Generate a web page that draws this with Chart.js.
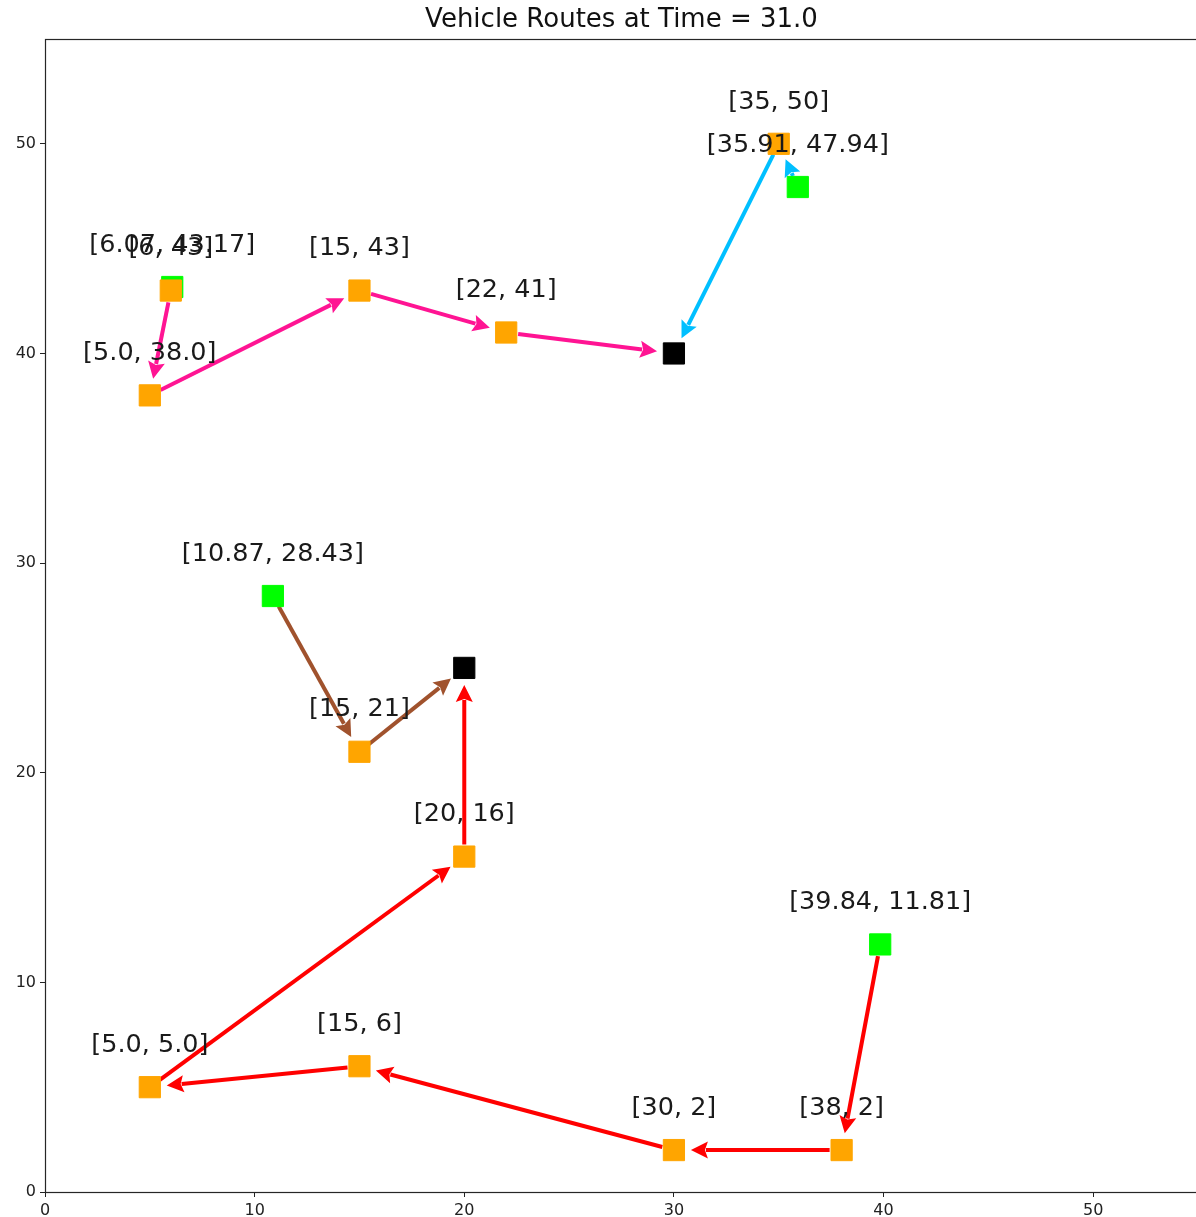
<!DOCTYPE html>
<html>
<head>
<meta charset="utf-8">
<script src="https://cdn.jsdelivr.net/npm/chart.js@4.4.0/dist/chart.umd.min.js"></script>
<style>
  html, body { margin: 0; padding: 0; overflow: hidden; background: #fff; }
  canvas { display: block; }
</style>
</head>
<body>
<canvas id="routes" width="1214" height="1217"></canvas>
<script>
// ---- data ----
const chartTitle = 'Vehicle Routes at Time = 31.0';
const axisTicks = [0, 10, 20, 30, 40, 50];

// customer stops
const customerPoints = [[6, 43], [5, 38], [15, 43], [22, 41], [35, 50], [15, 21], [20, 16], [5, 5], [15, 6], [30, 2], [38, 2]];
const customerLabels = ['[6, 43]', '[5.0, 38.0]', '[15, 43]', '[22, 41]', '[35, 50]', '[15, 21]', '[20, 16]', '[5.0, 5.0]', '[15, 6]', '[30, 2]', '[38, 2]'];

// current vehicle positions
const vehiclePoints = [[6.07, 43.17], [35.91, 47.94], [10.87, 28.43], [39.84, 11.81]];
const vehicleLabels = ['[6.07, 43.17]', '[35.91, 47.94]', '[10.87, 28.43]', '[39.84, 11.81]'];

// depots
const depotPoints = [[30, 40], [20, 25]];

// remaining route of each vehicle
const routePink = [[6.07, 43.17], [6, 43], [5, 38], [15, 43], [22, 41], [30, 40]];
const routeBlue = [[35.91, 47.94], [35, 50], [30, 40]];
const routeBrown = [[10.87, 28.43], [15, 21], [20, 25]];
const routeRed = [[39.84, 11.81], [38, 2], [30, 2], [15, 6], [5, 5], [20, 16], [20, 25]];

const routeColors = ['#FF1493', '#00BFFF', '#A0522D', '#FF0000'];
const routes = [routePink, routeBlue, routeBrown, routeRed];

const LABEL_OFFSET = 2.0; // label sits this many data units above its point

// ---- plugins ----
const arrowPlugin = {
  id: 'routeArrows',
  beforeDatasetsDraw(chart) {
    const { ctx, scales: { x, y } } = chart;
    const shrinkStart = 12, shrinkEnd = 17, headLen = 17, headHalf = 8.5;
    ctx.save();
    routes.forEach((route, r) => {
      ctx.strokeStyle = routeColors[r];
      ctx.fillStyle = routeColors[r];
      ctx.lineWidth = 4;
      ctx.lineCap = 'butt';
      for (let i = 0; i < route.length - 1; i++) {
        const x0 = x.getPixelForValue(route[i][0]);
        const y0 = y.getPixelForValue(route[i][1]);
        const x1 = x.getPixelForValue(route[i + 1][0]);
        const y1 = y.getPixelForValue(route[i + 1][1]);
        const len = Math.hypot(x1 - x0, y1 - y0);
        if (len < shrinkStart + shrinkEnd) continue;
        const ux = (x1 - x0) / len, uy = (y1 - y0) / len;
        const sx = x0 + ux * shrinkStart, sy = y0 + uy * shrinkStart;
        const tx = x1 - ux * shrinkEnd, ty = y1 - uy * shrinkEnd;
        const bx = tx - ux * headLen, by = ty - uy * headLen;
        ctx.beginPath();
        ctx.moveTo(sx, sy);
        ctx.lineTo(bx + ux * 2, by + uy * 2);
        ctx.stroke();
        ctx.beginPath();
        ctx.moveTo(tx, ty);
        ctx.lineTo(bx - uy * headHalf, by + ux * headHalf);
        ctx.lineTo(bx + ux * 3, by + uy * 3);
        ctx.lineTo(bx + uy * headHalf, by - ux * headHalf);
        ctx.closePath();
        ctx.fill();
      }
    });
    ctx.restore();
  }
};

const labelPlugin = {
  id: 'pointLabels',
  afterDatasetsDraw(chart) {
    const { ctx, scales: { x, y } } = chart;
    ctx.save();
    ctx.font = '25.5px "DejaVu Sans"';
    ctx.fillStyle = '#1a1a1a';
    ctx.textAlign = 'center';
    ctx.textBaseline = 'middle';
    const put = (pts, labels) => pts.forEach((p, i) => {
      ctx.fillText(labels[i], x.getPixelForValue(p[0]), y.getPixelForValue(p[1] + LABEL_OFFSET));
    });
    put(vehiclePoints, vehicleLabels);
    put(customerPoints, customerLabels);
    ctx.restore();
  }
};

const framePlugin = {
  id: 'frameAndTitle',
  afterDraw(chart) {
    const { ctx, chartArea: a } = chart;
    ctx.save();
    ctx.strokeStyle = '#262626';
    ctx.lineWidth = 1.2;
    ctx.strokeRect(Math.round(a.left) + 0.5, Math.round(a.top) + 0.5,
                   Math.round(a.right - a.left), Math.round(a.bottom - a.top));
    ctx.font = '26px "DejaVu Sans"';
    ctx.fillStyle = '#111';
    ctx.textAlign = 'center';
    ctx.textBaseline = 'middle';
    ctx.fillText(chartTitle, (a.left + a.right) / 2, 20);
    ctx.restore();
  }
};

// ---- chart ----
const toXY = pts => pts.map(([px, py]) => ({ x: px, y: py }));
const squareSet = (label, pts, color, order) => ({
  label, data: toXY(pts), order,
  pointStyle: 'rect', pointRadius: 15, pointHoverRadius: 15,
  backgroundColor: color, borderColor: color, borderWidth: 1, showLine: false
});

const axis = (fitProp, fitVal) => ({
  type: 'linear', min: 0, max: 55,
  afterBuildTicks: s => { s.ticks = axisTicks.map(v => ({ value: v })); },
  afterFit: s => { s[fitProp] = fitVal; },
  border: { display: false },
  grid: { drawOnChartArea: false, drawTicks: true, tickLength: 5, color: '#222', lineWidth: 1 },
  ticks: { font: { family: 'DejaVu Sans', size: 16 }, color: '#222', padding: 4, maxRotation: 0, autoSkip: false }
});

new Chart(document.getElementById('routes'), {
  type: 'scatter',
  data: {
    datasets: [
      squareSet('Depots', depotPoints, '#000000', 0),
      squareSet('Customers', customerPoints, '#FFA500', 1),
      squareSet('Vehicles', vehiclePoints, '#00FF00', 2)
    ]
  },
  options: {
    responsive: false,
    animation: false,
    events: [],
    devicePixelRatio: 1,
    layout: { padding: { top: 39, right: 2, left: 0, bottom: 0 } },
    plugins: { legend: { display: false }, tooltip: { enabled: false }, title: { display: false } },
    scales: { x: axis('height', 25), y: axis('width', 45) }
  },
  plugins: [arrowPlugin, labelPlugin, framePlugin]
});
</script>
</body>
</html>
